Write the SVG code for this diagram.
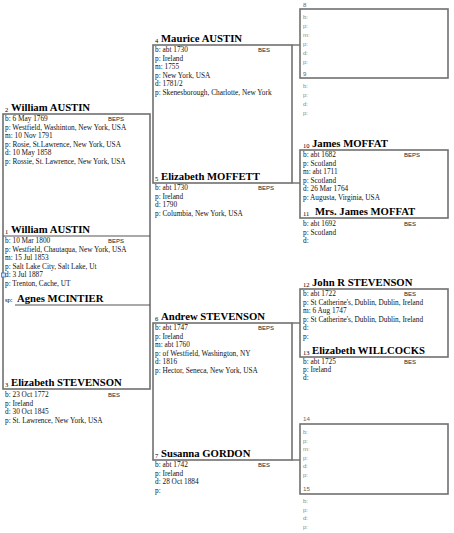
<svg xmlns="http://www.w3.org/2000/svg" width="454" height="533" viewBox="0 0 454 533">
<style>
.bg{fill:#ffffff}
.box{fill:none;stroke:#707070;stroke-width:1.6}
.ul{stroke:#555555;stroke-width:1.2}
.con{stroke:#555555;stroke-width:1.2}
.nm{font-family:"Liberation Serif",serif;font-weight:bold;font-size:10.7px;fill:#000}
.no{font-family:"Liberation Serif",serif;font-size:6.5px;fill:#000}
.dt{font-family:"Liberation Serif",serif;font-size:7.3px;fill:#111}
.tag{font-family:"Liberation Sans",sans-serif;font-size:6px;fill:#222}
.em{font-family:"Liberation Sans",sans-serif;font-size:6px;fill:#888}
.emn{font-family:"Liberation Sans",sans-serif;font-size:6.2px;fill:#666}
</style>
<rect class="bg" x="0" y="0" width="454" height="533"/>

<g id="connectors">
<line class="con" x1="292" y1="45" x2="300" y2="45"/>
<line class="con" x1="292" y1="183" x2="300" y2="183"/>
<line class="con" x1="292" y1="323" x2="300" y2="323"/>
<line class="con" x1="292" y1="460" x2="300" y2="460"/>
</g>

<g id="box-gen1"><rect class="box" x="3" y="114" width="147" height="275"/></g>
<g id="box-4-5"><rect class="box" x="153" y="45" width="139" height="138"/></g>
<g id="box-6-7"><rect class="box" x="153" y="323" width="139" height="137"/></g>
<g id="box-8-9"><rect class="box" x="300" y="9" width="148" height="69"/></g>
<g id="box-10-11"><rect class="box" x="300" y="150" width="148" height="68"/></g>
<g id="box-12-13"><rect class="box" x="300" y="289" width="148" height="68"/></g>
<g id="box-14-15"><rect class="box" x="300" y="424" width="148" height="70"/></g>

<g id="p2">
<text class="no" x="5" y="112">2</text>
<text class="nm" x="11" y="111">William AUSTIN</text>
<text class="dt" x="5" y="121">b: 6 May 1769</text>
<text class="tag" x="108" y="121">BEPS</text>
<text class="dt" x="5" y="129.5">p: Westfield, Washinton, New York, USA</text>
<text class="dt" x="5" y="138">m: 10 Nov 1791</text>
<text class="dt" x="5" y="146.5">p: Rosie, St.Lawrence, New York, USA</text>
<text class="dt" x="5" y="155">d: 10 May 1858</text>
<text class="dt" x="5" y="163.5">p: Rossie, St. Lawrence, New York, USA</text>
</g>

<g id="p1">
<text class="no" x="5" y="234">1</text>
<text class="nm" x="11" y="233">William AUSTIN</text>
<line class="ul" x1="3" y1="236" x2="150" y2="236"/>
<text class="dt" x="5" y="243">b: 10 Mar 1800</text>
<text class="tag" x="108" y="243">BEPS</text>
<text class="dt" x="5" y="251.5">p: Westfield, Chautaqua, New York, USA</text>
<text class="dt" x="5" y="260">m: 15 Jul 1853</text>
<text class="dt" x="5" y="268.5">p: Salt Lake City, Salt Lake, Ut</text>
<text class="dt" x="5" y="277">d: 3 Jul 1887</text>
<text class="dt" x="5" y="285.5">p: Trenton, Cache, UT</text>
<rect x="1.5" y="273" width="4" height="4" fill="#cfe0ff" stroke="#3a6fd0" stroke-width="0.8"/>
</g>

<g id="sp">
<text class="no" x="5" y="302">sp:</text>
<text class="nm" x="17" y="302">Agnes MCINTIER</text>
<line class="ul" x1="15" y1="305" x2="150" y2="305"/>
</g>

<g id="p3">
<text class="no" x="5" y="387">3</text>
<text class="nm" x="11" y="386">Elizabeth STEVENSON</text>
<text class="dt" x="5" y="397">b: 23 Oct 1772</text>
<text class="tag" x="108" y="397">BES</text>
<text class="dt" x="5" y="405.5">p: Ireland</text>
<text class="dt" x="5" y="414">d: 30 Oct 1845</text>
<text class="dt" x="5" y="422.5">p: St. Lawrence, New York, USA</text>
</g>

<g id="p4">
<text class="no" x="155" y="43">4</text>
<text class="nm" x="161" y="42">Maurice AUSTIN</text>
<text class="dt" x="155" y="52">b: abt 1730</text>
<text class="tag" x="258" y="52">BES</text>
<text class="dt" x="155" y="60.5">p: Ireland</text>
<text class="dt" x="155" y="69">m: 1755</text>
<text class="dt" x="155" y="77.5">p: New York, USA</text>
<text class="dt" x="155" y="86">d: 1781/2</text>
<text class="dt" x="155" y="94.5">p: Skenesborough, Charlotte, New York</text>
</g>

<g id="p5">
<text class="no" x="155" y="181">5</text>
<text class="nm" x="161" y="180">Elizabeth MOFFETT</text>
<text class="dt" x="155" y="190">b: abt 1730</text>
<text class="tag" x="258" y="190">BEPS</text>
<text class="dt" x="155" y="198.5">p: Ireland</text>
<text class="dt" x="155" y="207">d: 1790</text>
<text class="dt" x="155" y="215.5">p: Columbia, New York, USA</text>
</g>

<g id="p6">
<text class="no" x="155" y="321">6</text>
<text class="nm" x="161" y="320">Andrew STEVENSON</text>
<text class="dt" x="155" y="330">b: abt 1747</text>
<text class="tag" x="258" y="330">BEPS</text>
<text class="dt" x="155" y="338.5">p: Ireland</text>
<text class="dt" x="155" y="347">m: abt 1760</text>
<text class="dt" x="155" y="355.5">p: of Westfield, Washington, NY</text>
<text class="dt" x="155" y="364">d: 1816</text>
<text class="dt" x="155" y="372.5">p: Hector, Seneca, New York, USA</text>
</g>

<g id="p7">
<text class="no" x="155" y="458">7</text>
<text class="nm" x="161" y="457">Susanna GORDON</text>
<text class="dt" x="155" y="467">b: abt 1742</text>
<text class="tag" x="258" y="467">BES</text>
<text class="dt" x="155" y="475.5">p: Ireland</text>
<text class="dt" x="155" y="484">d: 28 Oct 1884</text>
<text class="dt" x="155" y="492.5">p:</text>
</g>

<g id="p8">
<text class="emn" x="303" y="6.5">8</text>
<text class="em" x="303" y="19">b:</text>
<text class="em" x="303" y="28">p:</text>
<text class="em" x="303" y="37">m:</text>
<text class="em" x="303" y="46">p:</text>
<text class="em" x="303" y="55">d:</text>
<text class="em" x="303" y="64">p:</text>
</g>

<g id="p9">
<text class="emn" x="303" y="76">9</text>
<text class="em" x="303" y="88">b:</text>
<text class="em" x="303" y="97">p:</text>
<text class="em" x="303" y="106">d:</text>
<text class="em" x="303" y="115">p:</text>
</g>

<g id="p10">
<text class="no" x="303" y="148">10</text>
<text class="nm" x="312" y="147">James MOFFAT</text>
<text class="dt" x="303" y="157">b: abt 1682</text>
<text class="tag" x="404" y="157">BEPS</text>
<text class="dt" x="303" y="165.5">p: Scotland</text>
<text class="dt" x="303" y="174">m: abt 1711</text>
<text class="dt" x="303" y="182.5">p: Scotland</text>
<text class="dt" x="303" y="191">d: 26 Mar 1764</text>
<text class="dt" x="303" y="199.5">p: Augusta, Virginia, USA</text>
</g>

<g id="p11">
<text class="no" x="303" y="216">11</text>
<text class="nm" x="315" y="215">Mrs. James MOFFAT</text>
<text class="dt" x="303" y="226">b: abt 1692</text>
<text class="tag" x="404" y="226">BES</text>
<text class="dt" x="303" y="234.5">p: Scotland</text>
<text class="dt" x="303" y="243">d:</text>
</g>

<g id="p12">
<text class="no" x="303" y="287">12</text>
<text class="nm" x="312" y="286">John R STEVENSON</text>
<text class="dt" x="303" y="296">b: abt 1722</text>
<text class="tag" x="404" y="296">BES</text>
<text class="dt" x="303" y="304.5">p: St Catherine's, Dublin, Dublin, Ireland</text>
<text class="dt" x="303" y="313">m: 6 Aug 1747</text>
<text class="dt" x="303" y="321.5">p: St Catherine's, Dublin, Dublin, Ireland</text>
<text class="dt" x="303" y="330">d:</text>
<text class="dt" x="303" y="338.5">p:</text>
</g>

<g id="p13">
<text class="no" x="303" y="355">13</text>
<text class="nm" x="312" y="354">Elizabeth WILLCOCKS</text>
<text class="dt" x="303" y="364">b: abt 1725</text>
<text class="tag" x="404" y="364">BES</text>
<text class="dt" x="303" y="372">p: Ireland</text>
<text class="dt" x="303" y="379.5">d:</text>
</g>

<g id="p14">
<text class="emn" x="303" y="421">14</text>
<text class="em" x="303" y="434">b:</text>
<text class="em" x="303" y="443">p:</text>
<text class="em" x="303" y="451">m:</text>
<text class="em" x="303" y="460">p:</text>
<text class="em" x="303" y="468">d:</text>
<text class="em" x="303" y="477">p:</text>
</g>

<g id="p15">
<text class="emn" x="303" y="491">15</text>
<text class="em" x="303" y="503">b:</text>
<text class="em" x="303" y="512">p:</text>
<text class="em" x="303" y="520">d:</text>
<text class="em" x="303" y="529">p:</text>
</g>
</svg>
